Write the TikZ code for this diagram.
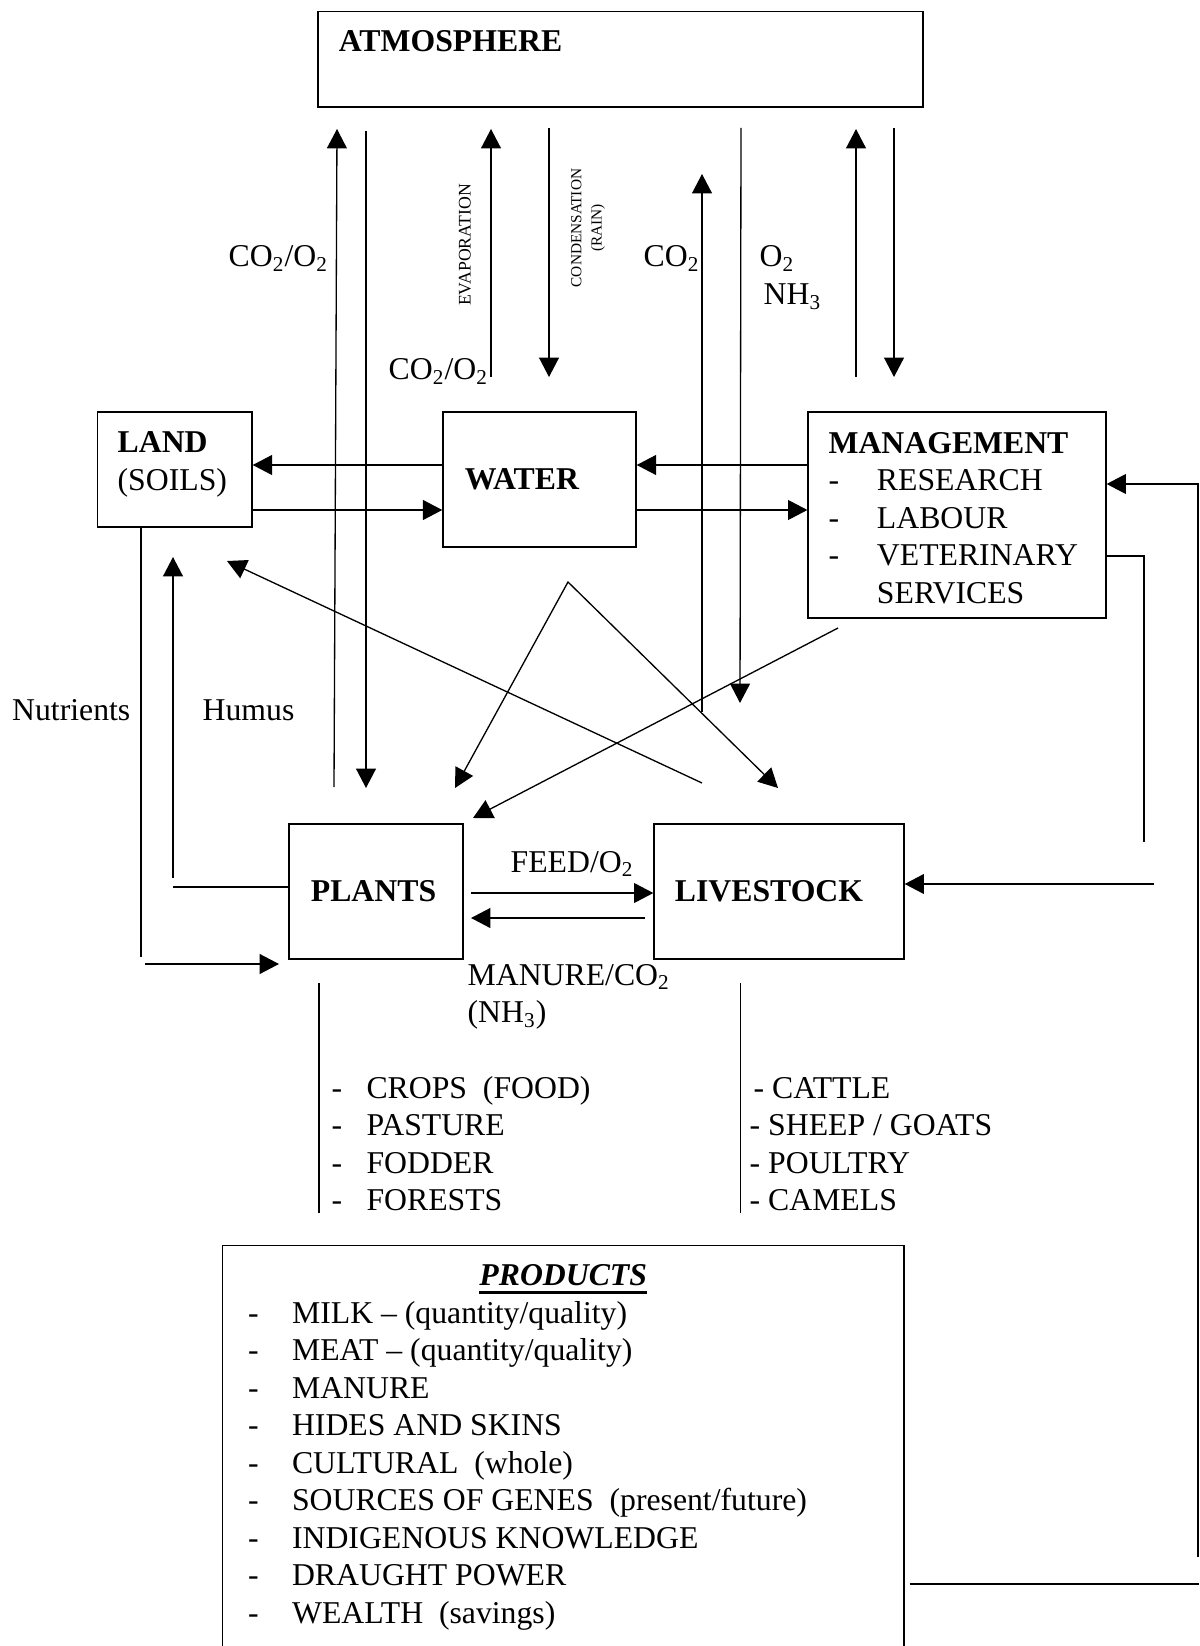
\documentclass[tikz,border=0pt]{standalone}
\usepackage{fontspec}
\setmainfont{Liberation Serif}
\usetikzlibrary{arrows.meta,positioning,calc}
\tikzset{
    block/.style = {draw, rectangle, align=left, inner ysep=0pt, font=\bfseries},
    lbl/.style = {inner sep=0pt, anchor=base west},
    vlbl/.style = {inner sep=0pt, rotate=90, align=center}
}
\newcommand{\dashitem}[2]{\makebox[#1][l]{-}#2}
\newcommand{\tsub}[1]{\textsubscript{#1}}
\newcommand{\thickul}[1]{\setbox0\hbox{#1}\rlap{\rule[-3.3pt]{\wd0}{1pt}}\box0}

\begin{document}
\fontsize{12}{14.2}\selectfont
\begin{tikzpicture}[x=0.378pt, y=-0.378pt, line width=0.5pt, >={Triangle[length=7.3pt,width=7.5pt]}]
    \useasboundingbox (0,0) rectangle (1199,1646);
    \clip (0,0) rectangle (1199,1646);
    % boxes
    \node [block, minimum width=228.7pt, minimum height=36pt, inner xsep=7.9pt, text width=212.9pt, text height=7.9pt, text depth=13.5pt] (atmos) at (620.5,59.35) {ATMOSPHERE};
    \node [block, minimum width=58.4pt, minimum height=43.5pt, inner xsep=7.6pt, text width=43.2pt, text height=8pt, text depth=20.5pt] (land) at (174.8,469.5) {LAND\\\normalfont(SOILS)};
    \node [block, minimum width=73pt, minimum height=51pt, inner xsep=8.3pt, text width=56.4pt] (water) at (539.5,479.5) {WATER};
    \node [block, minimum width=112.6pt, minimum height=77.9pt, inner xsep=7.75pt, text width=97.1pt, text height=10pt, text depth=56.8pt] (mgmt) at (957,515) {MANAGEMENT\\\normalfont\dashitem{18.3pt}{RESEARCH}\\\dashitem{18.3pt}{LABOUR}\\\dashitem{18.3pt}{VETERINARY}\\\hspace*{18.3pt}SERVICES};
    \node [block, minimum width=65.8pt, minimum height=51pt, inner xsep=8.3pt, text width=49.2pt] (plants) at (376,891.5) {PLANTS};
    \node [block, minimum width=94.5pt, minimum height=51pt, inner xsep=7.9pt, text width=78.7pt] (stock) at (779,891.5) {LIVESTOCK};
    \node [draw, rectangle, anchor=north, minimum width=257.6pt, minimum height=180pt] (products) at (563.25,1245) {};
    \node [anchor=base, inner sep=0pt] (prodtitle) at ($(products.north)+(0,40)$) {\thickul{\textbf{\textit{PRODUCTS}}}};
    \node [lbl] (prodlist) at (247.5,1323) {\begin{tabular}[t]{@{}l@{}}
        \dashitem{16.6pt}{MILK – (quantity/quality)}\\
        \dashitem{16.6pt}{MEAT – (quantity/quality)}\\
        \dashitem{16.6pt}{MANURE}\\
        \dashitem{16.6pt}{HIDES AND SKINS}\\
        \dashitem{16.6pt}{CULTURAL\ \ (whole)}\\
        \dashitem{16.6pt}{SOURCES OF GENES\ \ (present/future)}\\
        \dashitem{16.6pt}{INDIGENOUS KNOWLEDGE}\\
        \dashitem{16.6pt}{DRAUGHT POWER}\\
        \dashitem{16.6pt}{WEALTH\ \ (savings)}
    \end{tabular}};
    \node [lbl] (plantlist) at (331,1098) {\begin{tabular}[t]{@{}l@{}}
        \dashitem{13.2pt}{CROPS\ \ (FOOD)}\\
        \dashitem{13.2pt}{PASTURE}\\
        \dashitem{13.2pt}{FODDER}\\
        \dashitem{13.2pt}{FORESTS}
    \end{tabular}};
    \node [lbl] (stocklist) at (749,1098) {\begin{tabular}[t]{@{}l@{}}
        \hspace*{1.5pt}- CATTLE\\
        - SHEEP / GOATS\\
        - POULTRY\\
        - CAMELS
    \end{tabular}};
    % labels
    \node [lbl] (co2o2a) at (228,267) {CO\tsub{2}/O\tsub{2}};
    \node [lbl] (co2o2b) at (388,380) {CO\tsub{2}/O\tsub{2}};
    \node [lbl] (co2) at (643,267) {CO\tsub{2}};
    \node [lbl] (o2) at (759,267) {O\tsub{2}};
    \node [lbl] (nh3) at (763,305) {NH\tsub{3}};
    \node [vlbl, font=\fontsize{6.7}{8}\selectfont] (evap) at (465,245) {EVAPORATION};
    \node [vlbl, font=\fontsize{5.8}{7.6}\selectfont] (cond) at (588,228) {CONDENSATION\\(RAIN)};
    \node [lbl] (nutr) at (11.5,720) {Nutrients};
    \node [lbl] (humus) at (202,720) {Humus};
    \node [lbl] (feed) at (510,872) {FEED/O\tsub{2}};
    \node [lbl] (manure) at (467,985) {\begin{tabular}[t]{@{}l@{}}MANURE/CO\tsub{2}\\(NH\tsub{3})\end{tabular}};
    % atmosphere exchanges
    \coordinate (upa1) at (334,787); \coordinate (upa2) at (337,129);
    \coordinate (dna1) at (366,131); \coordinate (dna2) at (366,788);
    \coordinate (evap1) at (491,377); \coordinate (evap2) at (491,129);
    \coordinate (cond1) at (549,128); \coordinate (cond2) at (549,377);
    \coordinate (co2a) at (702,712); \coordinate (co2b) at (702,174);
    \coordinate (o2a) at (741,128); \coordinate (o2b) at (740,703);
    \coordinate (upm1) at (856,377); \coordinate (upm2) at (856,129);
    \coordinate (dnm1) at (894,128); \coordinate (dnm2) at (894,377);
    \draw[->] (upa1) -- (upa2);
    \draw[->] (dna1) -- (dna2);
    \draw[->] (evap1) -- (evap2);
    \draw[->] (cond1) -- (cond2);
    \draw[->] (co2a) -- (co2b);
    \draw[->] (o2a) -- (o2b);
    \draw[->] (upm1) -- (upm2);
    \draw[->] (dnm1) -- (dnm2);
    % land - water - management
    \coordinate (rowa) at (0,465); \coordinate (rowb) at (0,510);
    \draw[->] (water.west |- rowa) -- (land.east |- rowa);
    \draw[->] (land.east |- rowb) -- (water.west |- rowb);
    \draw[->] (mgmt.west |- rowa) -- (water.east |- rowa);
    \draw[->] (water.east |- rowb) -- (mgmt.west |- rowb);
    % diagonals
    \coordinate (apex) at (568,582); \coordinate (toplants) at (455,788); \coordinate (tostock) at (778,788);
    \draw[<->] (toplants) -- (apex) -- (tostock);
    \coordinate (fromstock) at (702,783); \coordinate (toland) at (227,561);
    \draw[->] (fromstock) -- (toland);
    \coordinate (frommgmt) at (838,628); \coordinate (mgmtplants) at (473,818);
    \draw[->] (frommgmt) -- (mgmtplants);
    % feedback on the right
    \coordinate (fbtop) at (1198,484); \coordinate (fbbot) at (1198,1557);
    \draw[->] (fbbot) -- (fbtop) -- (mgmt.east |- fbtop);
    \coordinate (vetcorner) at (1144,556); \coordinate (vetend) at (1144,842);
    \draw (mgmt.east |- vetcorner) -- (vetcorner) -- (vetend);
    \coordinate (tostockr) at (1154,884);
    \draw[->] (tostockr) -- (stock.east |- tostockr);
    \coordinate (prodout) at (1199,1584);
    \draw (products.east |- prodout) ++(5,0) -- (prodout);
    % land - plants
    \coordinate (nutrend) at (141,957);
    \draw (land.south -| nutrend) -- (nutrend);
    \coordinate (nutrstart) at (145,964); \coordinate (nutrtip) at (279,964);
    \draw[->] (nutrstart) -- (nutrtip);
    \coordinate (humcorner) at (173,887); \coordinate (humstart) at (173,878); \coordinate (humtip) at (173,557);
    \draw (plants.west |- humcorner) -- (humcorner);
    \draw[->] (humstart) -- (humtip);
    % plants - livestock
    \coordinate (feedstart) at (471,893);
    \draw[->] (feedstart) -- (stock.west |- feedstart);
    \coordinate (manstart) at (645,918); \coordinate (mantip) at (471,918);
    \draw[->] (manstart) -- (mantip);
    % list brackets
    \coordinate (pl1) at (319,983); \coordinate (pl2) at (319,1213);
    \coordinate (st1) at (740.5,983); \coordinate (st2) at (740.5,1213);
    \draw (pl1) -- (pl2);
    \draw (st1) -- (st2);
\end{tikzpicture}
\end{document}
